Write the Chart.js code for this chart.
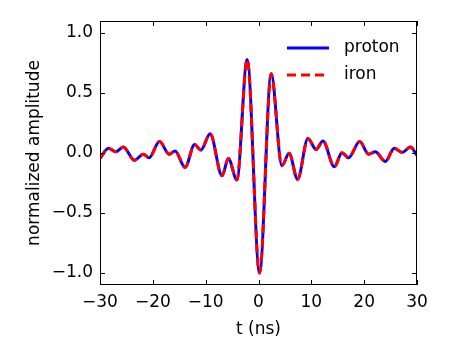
<!DOCTYPE html>
<html lang="en">
<head>
<meta charset="UTF-8">
<title>Normalized amplitude</title>
<script src="https://cdn.jsdelivr.net/npm/chart.js"></script>
<style>body{margin:0;background:#fff}</style>
</head>
<body>
<canvas id="pulseChart" width="450" height="360"></canvas>
<script>
// waveform (extrema), in ns
const timeNs = [-30, -28.4, -27.0, -25.6, -23.5, -21.8, -20.7, -18.75, -16.9, -15.8, -13.9, -12.1, -10.9, -9.15,
    -6.9, -5.7, -4.1, -2.14, 0.2, 2.4, 4.43, 5.8, 7.4, 9.35, 10.9, 12.2, 14.35, 15.8, 17.05, 19.15, 20.85,
    22.1, 24.0, 25.7, 27.2, 28.75, 30];
const protonAmp = [-0.045, 0.04, 0.01, 0.05, -0.06, -0.01, -0.04, 0.095, -0.01, 0.017, -0.12, 0.07, 0.025, 0.16,
    -0.19, -0.045, -0.225, 0.78, -1.0, 0.66, -0.106, -0.003, -0.22, 0.12, 0.03, 0.1, -0.114, 0.003, -0.04, 0.095, -0.01,
    0.01, -0.07, 0.04, 0.005, 0.05, -0.02];
const ironAmp = [-0.045, 0.04, 0.01, 0.05, -0.06, -0.01, -0.04, 0.095, -0.01, 0.017, -0.12, 0.07, 0.025, 0.16,
    -0.19, -0.045, -0.225, 0.78, -1.0, 0.66, -0.106, -0.003, -0.22, 0.12, 0.03, 0.1, -0.114, 0.003, -0.04, 0.095, -0.01,
    0.01, -0.07, 0.04, 0.005, 0.05, -0.02];
const xTicks = [-30, -20, -10, 0, 10, 20, 30];
const yTicks = [-1.0, -0.5, 0.0, 0.5, 1.0];

const FONT = 'DejaVu Sans';
const minus = s => String(s).replace('-', '\u2212');

// matplotlib-style box with inward ticks on all four sides
const frameTicks = {
    id: 'frameTicks',
    afterDatasetsDraw(chart) {
        const {ctx, chartArea: a, scales: {x, y}} = chart;
        ctx.save();
        ctx.strokeStyle = '#000';
        ctx.lineWidth = 1;
        ctx.strokeRect(a.left + 0.5, a.top + 0.5, a.right - a.left - 1, a.bottom - a.top - 1);
        ctx.beginPath();
        xTicks.forEach(v => {
            const px = Math.round(x.getPixelForValue(v)) + 0.5;
            ctx.moveTo(px, a.bottom); ctx.lineTo(px, a.bottom - 5);
            ctx.moveTo(px, a.top); ctx.lineTo(px, a.top + 5);
        });
        yTicks.forEach(v => {
            const py = Math.round(y.getPixelForValue(v)) + 0.5;
            ctx.moveTo(a.left, py); ctx.lineTo(a.left + 5, py);
            ctx.moveTo(a.right, py); ctx.lineTo(a.right - 5, py);
        });
        ctx.stroke();
        ctx.restore();
    }
};

// legend inside the plot, top right, no frame
const innerLegend = {
    id: 'innerLegend',
    afterDraw(chart) {
        const {ctx, chartArea: a} = chart;
        ctx.save();
        ctx.font = '17px "' + FONT + '"';
        ctx.textBaseline = 'middle';
        ctx.fillStyle = '#000';
        chart.data.datasets.forEach((ds, i) => {
            const yy = a.top + 27 + i * 27;
            ctx.beginPath();
            ctx.strokeStyle = ds.borderColor;
            ctx.lineWidth = ds.borderWidth;
            ctx.setLineDash(ds.borderDash || []);
            ctx.moveTo(a.right - 130, yy);
            ctx.lineTo(a.right - 88, yy);
            ctx.stroke();
            ctx.setLineDash([]);
            ctx.fillText(ds.label, a.right - 73, yy);
        });
        ctx.restore();
    }
};

const toPoints = arr => arr.map((v, i) => ({x: timeNs[i], y: v}));

new Chart(document.getElementById('pulseChart').getContext('2d'), {
    type: 'line',
    data: {
        datasets: [{
            label: 'proton',
            data: toPoints(protonAmp),
            borderColor: '#0000ff',
            borderWidth: 3,
            pointRadius: 0,
            order: 2,
            cubicInterpolationMode: 'monotone'
        }, {
            label: 'iron',
            data: toPoints(ironAmp),
            borderColor: '#ff0000',
            borderWidth: 3,
            borderDash: [9, 5],
            pointRadius: 0,
            order: 1,
            cubicInterpolationMode: 'monotone'
        }]
    },
    options: {
        responsive: false,
        animation: false,
        layout: {padding: {top: 21, right: 33, left: 0, bottom: 0}},
        plugins: {legend: {display: false}, tooltip: {enabled: false}},
        scales: {
            x: {
                type: 'linear',
                min: -30, max: 30,
                afterBuildTicks: s => { s.ticks = xTicks.map(v => ({value: v})); },
                afterFit: s => { s.height = 75; },
                grid: {display: false, drawTicks: false},
                border: {display: false},
                ticks: {color: '#000', padding: 7, font: {family: FONT, size: 17}, callback: v => minus(v)},
                title: {display: true, text: 't (ns)', color: '#000', font: {family: FONT, size: 17}, padding: {top: 0, bottom: 20}}
            },
            y: {
                min: -1.1, max: 1.1,
                afterBuildTicks: s => { s.ticks = yTicks.map(v => ({value: v})); },
                afterFit: s => { s.width = 100; },
                grid: {display: false, drawTicks: false},
                border: {display: false},
                ticks: {color: '#000', padding: 7, font: {family: FONT, size: 17}, callback: v => minus(v.toFixed(1))},
                title: {display: true, text: 'normalized amplitude', color: '#000', font: {family: FONT, size: 17}, padding: {top: 24, bottom: 0}}
            }
        }
    },
    plugins: [frameTicks, innerLegend]
});
</script>
</body>
</html>
